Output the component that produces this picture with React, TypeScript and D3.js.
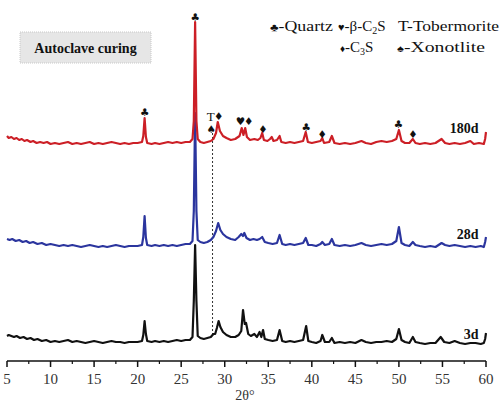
import React from "react";
import * as d3 from "d3";

type Pt = [number, number];

// 2θ (deg) vs intensity (a.u., includes vertical offset of each pattern)
const series180d: Pt[] = [
  [5.0,225],[5.2,223],[5.5,224],[5.8,222],[6.1,223],[6.4,221],[6.7,222],[7.0,220],[7.3,221],[7.7,219],[8.0,220],[8.4,218],[8.8,219],[9.2,218],[9.6,219],[10.0,217],[10.5,218],[11.0,217],[11.5,218],[12.0,219],[12.5,217],[13.0,218],[13.5,217],[14.0,218],[14.5,219],[15.0,217],[15.5,218],[16.0,217],[16.5,218],[17.0,219],[17.5,218],[18.0,217],[18.5,218],[19.0,217],[19.5,218],[20.0,218],[20.5,219],[20.65,225],[20.8,243],[20.95,224],[21.1,218],[21.6,217],[22.0,218],[22.5,217],[23.0,218],[23.5,219],[24.0,218],[24.5,219],[25.0,218],[25.5,219],[26.0,219],[26.3,222],[26.45,240],[26.6,339],[26.75,240],[26.9,222],[27.2,219],[27.6,218],[28.0,219],[28.4,220],[28.7,222],[29.0,228],[29.2,239],[29.45,230],[29.8,225],[30.2,223],[30.7,221],[31.2,222],[31.7,225],[31.95,233],[32.15,226],[32.35,233],[32.55,224],[32.9,221],[33.4,222],[33.8,221],[34.1,223],[34.3,228],[34.5,221],[34.9,220],[35.2,222],[35.4,224],[35.6,220],[36.0,221],[36.3,225],[36.5,219],[37.0,218],[37.5,219],[38.0,218],[38.5,219],[39.0,220],[39.3,229],[39.55,219],[40.0,218],[40.5,219],[41.0,220],[41.2,223],[41.4,218],[42.0,219],[42.3,225],[42.6,218],[43.2,217],[43.8,218],[44.4,217],[45.0,218],[45.7,220],[46.2,218],[46.8,217],[47.4,219],[48.0,220],[48.6,219],[49.2,220],[49.7,222],[50.0,231],[50.3,220],[50.7,218],[51.2,218],[51.6,222],[51.9,218],[52.4,217],[53.0,218],[53.6,217],[54.2,218],[54.9,222],[55.3,218],[55.8,217],[56.4,218],[57.0,217],[57.6,218],[58.2,220],[58.6,217],[59.2,218],[59.75,217],[59.9,222],[60.0,229]
];

const series28d: Pt[] = [
  [5.0,122],[5.3,121],[5.6,122],[6.0,120],[6.4,121],[6.8,119],[7.2,120],[7.6,118],[8.0,119],[8.5,117],[9.0,118],[9.5,116],[10.0,117],[10.5,116],[11.0,115],[11.5,116],[12.0,115],[12.5,116],[13.0,115],[13.5,114],[14.0,115],[14.5,116],[15.0,115],[15.5,114],[16.0,115],[16.5,114],[17.0,115],[17.5,116],[18.0,115],[18.5,114],[19.0,115],[19.5,115],[20.0,115],[20.5,116],[20.65,124],[20.8,145],[20.95,123],[21.1,116],[21.6,115],[22.0,116],[22.5,115],[23.0,116],[23.5,115],[24.0,116],[24.5,115],[25.0,116],[25.5,117],[26.0,117],[26.3,120],[26.45,150],[26.6,248],[26.75,150],[26.9,121],[27.2,119],[27.6,118],[28.0,119],[28.4,121],[28.7,124],[29.0,130],[29.25,138],[29.5,131],[29.8,127],[30.2,124],[30.7,122],[31.2,121],[31.6,124],[31.9,127],[32.1,125],[32.25,128],[32.5,123],[32.9,121],[33.3,122],[33.7,121],[34.0,122],[34.3,124],[34.6,119],[35.0,118],[35.5,117],[36.0,118],[36.3,126],[36.6,117],[37.0,116],[37.5,117],[38.0,116],[38.5,117],[39.0,118],[39.3,123],[39.6,116],[40.0,116],[40.5,115],[41.0,117],[41.2,119],[41.5,116],[42.0,117],[42.3,122],[42.6,116],[43.2,115],[43.8,116],[44.4,115],[45.0,116],[45.7,118],[46.2,116],[46.8,115],[47.4,116],[48.0,117],[48.6,116],[49.2,117],[49.7,120],[50.0,134],[50.3,118],[50.7,116],[51.2,115],[51.6,119],[51.9,116],[52.4,115],[53.0,114],[53.6,115],[54.2,114],[54.9,118],[55.3,116],[55.8,115],[56.4,116],[57.0,115],[57.6,114],[58.2,115],[58.8,114],[59.4,115],[59.75,114],[59.9,119],[60.0,124]
];

const series3d: Pt[] = [
  [5.0,25],[5.2,26],[5.5,25],[5.8,24],[6.1,25],[6.5,23],[6.9,24],[7.3,22],[7.7,23],[8.1,21],[8.5,22],[9.0,20],[9.5,21],[10.0,19],[10.5,20],[11.0,19],[11.5,20],[12.0,21],[12.5,19],[13.0,20],[13.5,19],[14.0,18],[14.5,19],[15.0,20],[15.5,19],[16.0,18],[16.5,19],[17.0,20],[17.5,19],[18.0,19],[18.5,18],[19.0,19],[19.5,19],[20.0,19],[20.5,20],[20.65,26],[20.8,40],[20.95,27],[21.1,20],[21.6,19],[22.0,20],[22.5,19],[23.0,20],[23.5,19],[24.0,20],[24.5,21],[25.0,20],[25.5,21],[26.0,21],[26.3,24],[26.45,60],[26.6,116],[26.75,60],[26.9,25],[27.2,23],[27.6,22],[28.0,23],[28.4,24],[28.7,27],[28.9,27],[29.1,33],[29.3,40],[29.5,34],[29.8,29],[30.2,26],[30.7,24],[31.2,24],[31.6,26],[31.9,30],[32.1,51],[32.3,37],[32.45,38],[32.7,27],[33.0,25],[33.4,27],[33.7,24],[34.0,29],[34.2,24],[34.4,31],[34.6,22],[35.0,21],[35.5,20],[36.0,21],[36.3,31],[36.6,20],[37.0,19],[37.5,20],[38.0,19],[38.5,20],[39.0,21],[39.35,35],[39.6,20],[40.0,19],[40.5,18],[41.0,20],[41.2,26],[41.5,19],[42.0,19],[42.3,23],[42.6,18],[43.2,19],[43.8,18],[44.4,19],[45.0,18],[45.7,21],[46.2,19],[46.8,18],[47.4,19],[48.0,19],[48.6,20],[49.2,19],[49.7,22],[50.0,32],[50.3,21],[50.7,19],[51.2,18],[51.6,24],[51.9,19],[52.4,18],[53.0,17],[53.6,18],[54.2,18],[54.8,24],[55.2,19],[55.8,18],[56.4,20],[57.0,18],[57.6,17],[58.2,18],[58.8,18],[59.4,17],[59.75,18],[59.9,22],[60.0,28]
];

const seriesNames = ["3d", "28d", "180d"];
const seriesColors = ["#111111", "#2b359e", "#cc1f26"];
const labelLevels = [22, 122, 228]; // intensity where each age label sits

const xTicks = [5, 10, 15, 20, 25, 30, 35, 40, 45, 50, 55, 60];

// phase markers: symbol, 2θ, intensity level
const markerSyms = ["♣", "♣", "T", "♦", "♠", "♥", "♦", "♦", "♣", "♦", "♣", "♦"];
const markerTheta = [20.8, 26.6, 28.4, 29.3, 28.45, 31.8, 32.75, 34.4, 39.35, 41.2, 49.95, 51.6];
const markerLevel = [249, 344, 245, 245, 232, 240, 240, 232, 234, 227, 237, 227];

const dashedTheta = 28.6;
const dashedRange = [26, 228];

const W = 501, H = 402;

export default function App() {
  const x = d3.scaleLinear().domain([5, 60]).range([7, 486]);
  const y = d3.scaleLinear().domain([0, 361]).range([361, 0]);
  const line = d3.line<Pt>().x(d => x(d[0])).y(d => y(d[1]));
  const all = [series3d, series28d, series180d];
  const minor = d3.range(5, 60.01, 2.5).filter(v => v % 5 !== 0);
  const serif = "'Liberation Serif', 'Times New Roman', serif";

  return (
    <svg width={W} height={H} style={{ position: "absolute", left: 0, top: 0, background: "#fff" }}>
      <rect x={0} y={0} width={W} height={H} fill="#fff" />
      {/* title box */}
      <rect x={20} y={32} width={131} height={31} fill="#e6e6e6" stroke="#c8c8c8" strokeWidth={1} strokeDasharray="1,1" />
      <text x={85.5} y={52.5} textAnchor="middle" fontFamily={serif} fontWeight="bold" fontSize={14} fill="#111">Autoclave curing</text>

      {/* legend */}
      <g fontFamily={serif} fontSize={15} fill="#111">
        <text x={270} y={31} textLength={63} lengthAdjust="spacingAndGlyphs"><tspan fontSize={11}>♣</tspan>-Quartz</text>
        <text x={338} y={31}><tspan fontSize={11}>♥</tspan>-β-C<tspan fontSize={10} dy={3}>2</tspan><tspan dy={-3}>S</tspan></text>
        <text x={398} y={31} textLength={101} lengthAdjust="spacingAndGlyphs">T-Tobermorite</text>
        <text x={340} y={52}><tspan fontSize={10}>♦</tspan>-C<tspan fontSize={10} dy={3}>3</tspan><tspan dy={-3}>S</tspan></text>
        <text x={397} y={52} textLength={88} lengthAdjust="spacingAndGlyphs"><tspan fontSize={10}>♠</tspan>-Xonotlite</text>
      </g>

      {/* dashed reference line */}
      <line x1={x(dashedTheta)} x2={x(dashedTheta)} y1={y(dashedRange[0])} y2={y(dashedRange[1])} stroke="#333" strokeWidth={1} strokeDasharray="2,2" />

      {/* patterns */}
      {all.map((s, i) => (
        <path key={i} d={line(s) || ""} fill="none" stroke={seriesColors[i]} strokeWidth={2.2} strokeLinejoin="round" />
      ))}

      {/* age labels */}
      {seriesNames.map((n, i) => (
        <text key={n} x={x(59.15)} y={y(labelLevels[i])} textAnchor="end" fontFamily={serif} fontWeight="bold" fontSize={14} fill="#111">{n}</text>
      ))}

      {/* phase markers */}
      {markerSyms.map((s, i) => (
        <text key={i} x={x(markerTheta[i])} y={y(markerLevel[i])} textAnchor="middle" dominantBaseline="central"
          fontFamily={s === "T" ? serif : "'DejaVu Sans', sans-serif"} fontSize={s === "T" ? 13 : 10.5} fill="#111">{s}</text>
      ))}

      {/* x axis */}
      <line x1={x(5)} x2={x(60)} y1={361} y2={361} stroke="#111" strokeWidth={1.5} />
      {xTicks.map(t => (
        <g key={t}>
          <line x1={x(t)} x2={x(t)} y1={361} y2={367} stroke="#111" strokeWidth={1.5} />
          <text x={x(t)} y={384} textAnchor="middle" fontFamily={serif} fontSize={15} fill="#333">{t}</text>
        </g>
      ))}
      {minor.map(t => (
        <line key={t} x1={x(t)} x2={x(t)} y1={361} y2={364} stroke="#111" strokeWidth={1.2} />
      ))}
      <text x={245} y={400} textAnchor="middle" fontFamily={serif} fontSize={14} fill="#333">2θ°</text>
    </svg>
  );
}
